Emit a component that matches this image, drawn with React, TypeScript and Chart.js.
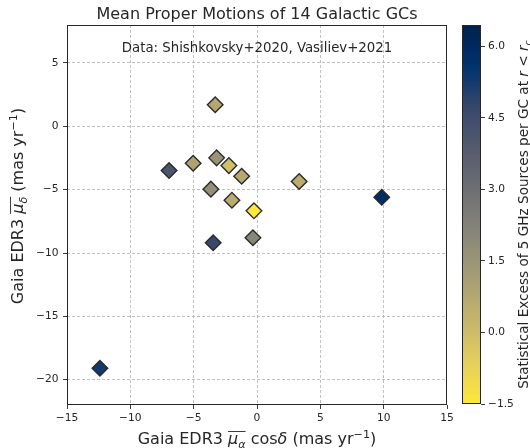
import React, { useEffect, useRef } from "react";
import { Chart, registerables } from "chart.js";
Chart.register(...registerables);

// ---- data ----
const gcPmRa = [-12.4, -6.94, -5.04, -3.3, -3.19, -2.22, -1.21, -3.64, -1.98, -0.24, -3.46, -0.32, 3.33, 9.85];
const gcPmDec = [-19.1, -3.49, -2.91, 1.7, -2.49, -3.1, -3.94, -4.96, -5.83, -6.67, -9.19, -8.8, -4.36, -5.6];
const gcExcess = [5.3, 4.1, 0.9, 0.8, 1.6, -0.1, 0.7, 1.7, 0.65, -1.5, 4.7, 2.1, 0.55, 5.9];

const xTicks = [-15, -10, -5, 0, 5, 10, 15];
const yTicks = [-20, -15, -10, -5, 0, 5];
const cbTicks = [-1.5, 0, 1.5, 3, 4.5, 6];

const X_MIN = -15, X_MAX = 15, Y_MIN = -22, Y_MAX = 8;
const C_MIN = -1.5, C_MAX = 6.45;

const titleText = "Mean Proper Motions of 14 Galactic GCs";
const noteText = "Data: Shishkovsky+2020, Vasiliev+2021";

// cividis colormap samples
const CIVIDIS = ["#00204D", "#00336F", "#39486B", "#575C6D", "#707173", "#8A8779", "#A69D75", "#C4B56C", "#E4CF5B", "#FEE838"];

const FONT = '"DejaVu Sans"';
const INK = "#262626";
const GRID = "#b0b0b0";

function hexToRgb(h: string) {
  return [parseInt(h.slice(1, 3), 16), parseInt(h.slice(3, 5), 16), parseInt(h.slice(5, 7), 16)];
}
function cividis(t: number) {
  const tt = Math.max(0, Math.min(1, t)) * (CIVIDIS.length - 1);
  const i = Math.min(CIVIDIS.length - 2, Math.floor(tt));
  const f = tt - i;
  const a = hexToRgb(CIVIDIS[i]), b = hexToRgb(CIVIDIS[i + 1]);
  const c = a.map((v, k) => Math.round(v + (b[k] - v) * f));
  return `rgb(${c[0]},${c[1]},${c[2]})`;
}
// reversed: low values yellow, high values dark blue
function colorFor(v: number) {
  return cividis(1 - (v - C_MIN) / (C_MAX - C_MIN));
}
function fmtNum(v: number, digits = 0) {
  const s = Math.abs(v).toFixed(digits);
  return v < 0 ? "\u2212" + s : s;
}

type Seg = { t: string; it?: boolean; sc?: number; dy?: number; ov?: boolean };
function drawRich(ctx: CanvasRenderingContext2D, segs: Seg[], cx: number, baseY: number, size: number) {
  const font = (s: Seg) => `${s.it ? "italic " : ""}${size * (s.sc ?? 1)}px ${FONT}`;
  const widths = segs.map((s) => {
    ctx.font = font(s);
    return ctx.measureText(s.t).width;
  });
  const total = widths.reduce((a, b) => a + b, 0);
  let x = cx - total / 2;
  let ovStart: number | null = null, ovEnd = 0;
  ctx.textAlign = "left";
  ctx.textBaseline = "alphabetic";
  segs.forEach((s, i) => {
    ctx.font = font(s);
    ctx.fillText(s.t, x, baseY + (s.dy ?? 0) * size);
    if (s.ov) {
      if (ovStart === null) ovStart = x;
      ovEnd = x + widths[i];
    }
    x += widths[i];
  });
  if (ovStart !== null) {
    ctx.beginPath();
    ctx.lineWidth = 0.9;
    ctx.moveTo(ovStart, baseY - 0.8 * size);
    ctx.lineTo(ovEnd, baseY - 0.8 * size);
    ctx.stroke();
  }
}

const xLabelSegs: Seg[] = [
  { t: "Gaia EDR3 " },
  { t: "\u03bc", it: true, ov: true },
  { t: "\u03b1", it: true, sc: 0.7, dy: 0.22, ov: true },
  { t: " cos" },
  { t: "\u03b4", it: true },
  { t: " (mas yr" },
  { t: "\u22121", sc: 0.7, dy: -0.42 },
  { t: ")" },
];
const yLabelSegs: Seg[] = [
  { t: "Gaia EDR3 " },
  { t: "\u03bc", it: true, ov: true },
  { t: "\u03b4", it: true, sc: 0.7, dy: 0.22, ov: true },
  { t: " (mas yr" },
  { t: "\u22121", sc: 0.7, dy: -0.42 },
  { t: ")" },
];
const cbLabelSegs: Seg[] = [
  { t: "Statistical Excess of 5 GHz Sources per GC at " },
  { t: "r", it: true },
  { t: " < " },
  { t: "r", it: true },
  { t: "c", it: true, sc: 0.7, dy: 0.22 },
];

const mainDecor = {
  id: "mainDecor",
  beforeDatasetsDraw(chart: any) {
    const { ctx, chartArea: a } = chart;
    ctx.save();
    ctx.strokeStyle = INK;
    ctx.lineWidth = 1;
    ctx.strokeRect(a.left + 0.5, a.top + 0.5, a.right - a.left - 1, a.bottom - a.top - 1);
    ctx.fillStyle = INK;
    ctx.font = `13.3px ${FONT}`;
    ctx.textAlign = "center";
    ctx.textBaseline = "alphabetic";
    ctx.fillText(noteText, (a.left + a.right) / 2, a.top + 26.7);
    ctx.restore();
  },
  afterDraw(chart: any) {
    const { ctx, chartArea: a } = chart;
    ctx.save();
    ctx.fillStyle = INK;
    ctx.strokeStyle = INK;
    ctx.font = `16px ${FONT}`;
    ctx.textAlign = "center";
    ctx.textBaseline = "alphabetic";
    ctx.fillText(titleText, (a.left + a.right) / 2, 19.3);
    drawRich(ctx, xLabelSegs, (a.left + a.right) / 2, 444.3, 16);
    ctx.translate(23.3, 206);
    ctx.rotate(-Math.PI / 2);
    drawRich(ctx, yLabelSegs, 0, 0, 16);
    ctx.restore();
  },
};

const cbDecor = {
  id: "cbDecor",
  beforeDatasetsDraw(chart: any) {
    const { ctx, chartArea: a, scales } = chart;
    const y = scales.y;
    const y0 = y.getPixelForValue(C_MIN), y1 = y.getPixelForValue(C_MAX);
    const g = ctx.createLinearGradient(0, y0, 0, y1);
    for (let i = 0; i <= 40; i++) {
      const v = C_MIN + ((C_MAX - C_MIN) * i) / 40;
      g.addColorStop(i / 40, colorFor(v));
    }
    ctx.save();
    ctx.fillStyle = g;
    ctx.fillRect(a.left, y1, a.right - a.left, y0 - y1);
    ctx.strokeStyle = INK;
    ctx.lineWidth = 1;
    ctx.strokeRect(a.left + 0.5, y1 + 0.5, a.right - a.left - 1, y0 - y1 - 1);
    ctx.restore();
  },
  afterDraw(chart: any) {
    const { ctx, chartArea: a } = chart;
    ctx.save();
    ctx.fillStyle = INK;
    ctx.translate(528, (a.top + a.bottom) / 2);
    ctx.rotate(-Math.PI / 2);
    drawRich(ctx, cbLabelSegs, 0, 0, 13.6);
    ctx.restore();
  },
};

export default function App() {
  const mainRef = useRef<HTMLCanvasElement>(null);
  const cbRef = useRef<HTMLCanvasElement>(null);

  useEffect(() => {
    document.body.style.margin = "0";
    const tickFont = { family: FONT, size: 10.67 };
    const points = gcPmRa.map((x, i) => ({ x, y: gcPmDec[i] }));
    const gridColor = (lo: number, hi: number) => (c: any) =>
      c.tick && (c.tick.value === lo || c.tick.value === hi) ? "rgba(0,0,0,0)" : GRID;

    const main = new Chart(mainRef.current as HTMLCanvasElement, {
      type: "scatter",
      data: {
        datasets: [
          {
            data: points,
            pointStyle: "rectRot",
            pointRadius: 7.8,
            pointHoverRadius: 7.8,
            pointBorderWidth: 1.4,
            pointBorderColor: "#2b2b2b",
            pointBackgroundColor: (c: any) => colorFor(gcExcess[c.dataIndex]),
          } as any,
        ],
      },
      options: {
        animation: false,
        responsive: false,
        devicePixelRatio: 1,
        events: [],
        layout: { padding: { left: 0, top: 25, right: 83, bottom: 0 } },
        plugins: { legend: { display: false }, tooltip: { enabled: false }, title: { display: false } },
        scales: {
          x: {
            type: "linear",
            min: X_MIN,
            max: X_MAX,
            afterBuildTicks: (s: any) => {
              s.ticks = xTicks.map((v) => ({ value: v }));
            },
            afterFit: (s: any) => {
              s.height = 43;
            },
            grid: { color: gridColor(X_MIN, X_MAX), lineWidth: 0.8, tickColor: INK, tickLength: 4, tickWidth: 0.9 },
            border: { display: false, dash: [3, 2] },
            ticks: { font: tickFont, color: INK, padding: 3, maxRotation: 0, callback: (v: any) => fmtNum(Number(v)) },
          },
          y: {
            type: "linear",
            min: Y_MIN,
            max: Y_MAX,
            afterBuildTicks: (s: any) => {
              s.ticks = yTicks.map((v) => ({ value: v }));
            },
            afterFit: (s: any) => {
              s.width = 67;
            },
            grid: { color: gridColor(Y_MIN, Y_MAX), lineWidth: 0.8, tickColor: INK, tickLength: 4, tickWidth: 0.9 },
            border: { display: false, dash: [3, 2] },
            ticks: { font: tickFont, color: INK, padding: 4.5, callback: (v: any) => fmtNum(Number(v)) },
          },
        },
      } as any,
      plugins: [mainDecor],
    });

    const cb = new Chart(cbRef.current as HTMLCanvasElement, {
      type: "scatter",
      data: { datasets: [] },
      options: {
        animation: false,
        responsive: false,
        devicePixelRatio: 1,
        events: [],
        layout: { padding: { left: 462, top: 25, right: 0, bottom: 44 } },
        plugins: { legend: { display: false }, tooltip: { enabled: false } },
        scales: {
          x: { type: "linear", display: false, min: 0, max: 1 },
          y: {
            type: "linear",
            position: "right",
            min: C_MIN,
            max: C_MAX,
            afterBuildTicks: (s: any) => {
              s.ticks = cbTicks.map((v) => ({ value: v }));
            },
            afterFit: (s: any) => {
              s.width = 49;
            },
            grid: { drawOnChartArea: false, tickColor: INK, tickLength: 4, tickWidth: 0.9 },
            border: { display: false },
            ticks: { font: tickFont, color: INK, padding: 3, callback: (v: any) => fmtNum(Number(v), 1) },
          },
        },
      } as any,
      plugins: [cbDecor],
    });

    return () => {
      main.destroy();
      cb.destroy();
    };
  }, []);

  return (
    <div style={{ position: "relative", width: 530, height: 448, background: "#fff" }}>
      <canvas ref={mainRef} width={530} height={448} style={{ position: "absolute", left: 0, top: 0 }} />
      <canvas ref={cbRef} width={530} height={448} style={{ position: "absolute", left: 0, top: 0, pointerEvents: "none" }} />
    </div>
  );
}
